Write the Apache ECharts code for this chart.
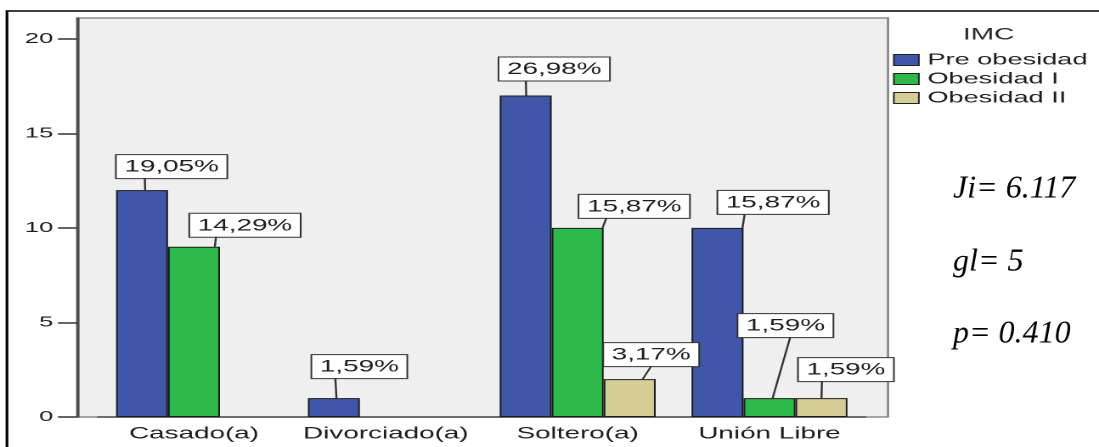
<!DOCTYPE html>
<html>
<head>
<meta charset="utf-8">
<script src="https://cdn.jsdelivr.net/npm/echarts@6/dist/echarts.min.js"></script>
<style>
  html, body { margin: 0; padding: 0; background: #ffffff; overflow: hidden; }
  /* The chart is laid out narrow and widened horizontally, like the exported figure */
  #chart { width: 647px; height: 447px; transform: scaleX(1.698609); transform-origin: 0 0; }
</style>
</head>
<body>
<div id="chart"></div>
<script>
// Estado civil vs IMC (counts; labels show percentage of the total)
const categories = ['Casado(a)', 'Divorciado(a)', 'Soltero(a)', 'Unión Libre'];
const seriesNames = ['Pre obesidad', 'Obesidad I', 'Obesidad II'];
const preObesidad = [12, 1, 17, 10];
const obesidadI = [9, 0, 10, 1];
const obesidadII = [0, 0, 2, 1];
const totalN = 63;
const yTicks = [0, 5, 10, 15, 20];
const legendTitle = 'IMC';
const statLines = ['Ji= 6.117', 'gl= 5', 'p= 0.410'];

// Horizontal stretch applied to the whole figure
const SX = 1099 / 647;
const BAR_W = 30.6;

// Label placement per bar: [dx, dy, leader x as fraction of box, leader x as fraction of bar]
const labelShift = [
  [[17.4, -12, 0.26, 0.56], [15, -20, 0.25, 0.55], [16.8, -15, 0.245, 0.51], [32.7, -14, 0.245, 0.98]],
  [[30, -10, 0.24, 0.9], null, [33.3, -10, 0.25, 0.98], [9.4, -61, 0.55, 0.56]],
  [null, null, [12.7, -13, 0.5, 0.75], [14.4, -17, 0.25, 0.5]]
];
const barColors = ['#3f56a9', '#2db84a', '#d4cd95'];
const FONT = "'Liberation Sans', Arial, sans-serif";
const LABEL_SIZE = 16.4;
const LABEL_PAD = [3, 4.5, 2, 4.5];

function pct(v) {
  return (v / totalN * 100).toFixed(2).replace('.', ',') + '%';
}

const measureCtx = document.createElement('canvas').getContext('2d');
function textWidth(t) {
  measureCtx.font = LABEL_SIZE + "px 'Liberation Sans', Arial, sans-serif";
  return measureCtx.measureText(t).width;
}

function buildSeries(values, idx) {
  return {
    name: seriesNames[idx],
    type: 'bar',
    barWidth: BAR_W,
    barGap: 0,
    itemStyle: { color: barColors[idx], borderColor: '#1c1c1c', borderWidth: 1 },
    label: {
      show: true,
      position: 'top',
      distance: 0,
      fontFamily: FONT,
      fontSize: LABEL_SIZE,
      lineHeight: 18,
      color: '#1e1e1e',
      backgroundColor: '#ffffff',
      borderColor: '#333333',
      borderWidth: 1,
      padding: LABEL_PAD,
      formatter: p => pct(p.value)
    },
    labelLayout: p => {
      const s = labelShift[p.seriesIndex] && labelShift[p.seriesIndex][p.dataIndex];
      return s ? { dx: s[0], dy: s[1] } : {};
    },
    emphasis: { disabled: true },
    data: values.map(v => (v ? v : '-'))
  };
}

// Leader lines between each bar top and its percentage box
const leaderData = [];
[preObesidad, obesidadI, obesidadII].forEach((vals, s) => {
  vals.forEach((v, i) => { if (v && labelShift[s][i]) leaderData.push([i, v, s]); });
});

function renderLeader(params, api) {
  const cat = api.value(0), v = api.value(1), s = api.value(2);
  const top = api.coord([cat, v]);
  const sh = labelShift[s][cat];
  const barCx = top[0] + (s - 1) * BAR_W;
  const barL = barCx - BAR_W / 2;
  const w = textWidth(pct(v)) + LABEL_PAD[1] + LABEL_PAD[3] + 1;
  const boxL = barCx + sh[0] - w / 2;
  const lx = boxL + w * sh[2];
  const bx = barL + BAR_W * sh[3];
  return {
    type: 'line',
    shape: { x1: bx, y1: top[1], x2: lx, y2: top[1] + sh[1] },
    style: { stroke: '#333333', lineWidth: 1.2 }
  };
}

const chart = echarts.init(document.getElementById('chart'), null, { renderer: 'canvas', devicePixelRatio: 2 });

const plotLeft = 77 / SX, plotRight = 888 / SX, plotTop = 18, plotBottom = 417;

chart.setOption({
  animation: false,
  backgroundColor: '#ffffff',
  grid: { left: 57.74, right: 137.52, top: plotTop, bottom: 447 - plotBottom, containLabel: false },
  legend: {
    orient: 'vertical',
    left: 893 / SX,
    top: 50.5,
    padding: 0,
    icon: 'rect',
    itemWidth: 25 / SX,
    itemHeight: 11,
    itemGap: 0,
    selectedMode: false,
    itemStyle: { borderColor: '#222222', borderWidth: 1 },
    textStyle: { fontFamily: FONT, fontSize: 16, lineHeight: 19, color: '#1e1e1e' },
    data: seriesNames
  },
  xAxis: {
    type: 'category',
    data: categories,
    axisLine: { lineStyle: { color: '#4a4a4a', width: 1.6 } },
    axisTick: { alignWithLabel: true, length: 9, lineStyle: { color: '#333333', width: 1.2 } },
    axisLabel: { interval: 0, fontFamily: FONT, fontSize: 16.4, color: '#1e1e1e', margin: 9 }
  },
  yAxis: {
    type: 'value',
    min: 0,
    max: 21.1,
    interval: 5,
    offset: 57.74 - plotLeft,
    axisLine: { show: true, lineStyle: { color: '#4a4a4a', width: 1.6 } },
    axisTick: { show: true, length: 11.2, customValues: yTicks, lineStyle: { color: '#333333', width: 1.5 } },
    axisLabel: { fontFamily: FONT, fontSize: 15, color: '#1e1e1e', margin: 14, customValues: yTicks },
    splitLine: { show: false }
  },
  graphic: [
    {
      type: 'rect', z: -10, silent: true,
      shape: { x: 4.1, y: 11, width: 800, height: 600 },
      style: { fill: '#ffffff', stroke: '#000000', lineWidth: 1.6 }
    },
    {
      type: 'rect', z: -9, silent: true,
      shape: { x: plotLeft, y: plotTop, width: plotRight - plotLeft, height: plotBottom - plotTop },
      style: { fill: '#efefef', stroke: '#777777', lineWidth: 1.2 }
    },
    {
      type: 'text', silent: true, x: 963 / SX, y: 35,
      style: {
        text: legendTitle, font: '16.5px ' + FONT, fill: '#2a2a2a',
        align: 'left', verticalAlign: 'middle'
      }
    }
  ].concat(statLines.map((t, i) => ({
    type: 'text', silent: true,
    x: 953 / SX, y: [189, 262, 334][i],
    scaleX: 1 / SX,
    style: {
      text: t, font: 'italic 32px "Liberation Serif", "Times New Roman", serif', fill: '#000000',
      align: 'left', verticalAlign: 'middle'
    }
  }))),
  series: [
    buildSeries(preObesidad, 0),
    buildSeries(obesidadI, 1),
    buildSeries(obesidadII, 2),
    {
      type: 'custom',
      silent: true,
      clip: false,
      z: 3,
      renderItem: renderLeader,
      encode: { x: 0, y: 1 },
      data: leaderData
    }
  ]
});
</script>
</body>
</html>
